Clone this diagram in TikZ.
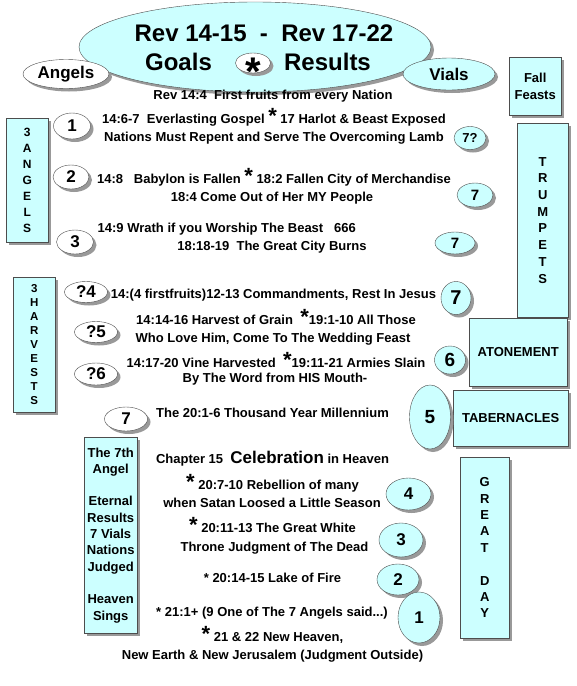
\documentclass[tikz,border=0pt]{standalone}
\usepackage{fontspec}
\setmainfont{Liberation Sans}
\usetikzlibrary{shapes.geometric,shadows}

\definecolor{paleblue}{HTML}{CCFFFF}
\definecolor{rimgray}{HTML}{4D4D4D}
\definecolor{shadegray}{HTML}{999999}

\newcommand{\boldsize}[2]{\bfseries\fontsize{#1}{#2}\selectfont}
\newcommand{\bigmark}{{\fontsize{22}{22}\selectfont *}}

\begin{document}
\begin{tikzpicture}[
    x=1pt, y=-1pt,
    shadowed/.style={drop shadow={shadow xshift=3pt, shadow yshift=-3pt, fill=shadegray, opacity=1}},
    panel/.style={shadowed, rectangle, draw=rimgray, fill=paleblue, anchor=north west, inner sep=0pt, align=center, font=\boldsize{13}{16}},
    bubble/.style={shadowed, ellipse, draw=rimgray, fill=paleblue, inner sep=0pt, font=\boldsize{17}{17}},
    whitebubble/.style={bubble, fill=white},
    verse/.style={inner sep=0pt, anchor=base, font=\boldsize{13}{16}},
    ]
    \path[use as bounding box, fill=white] (0,0) rectangle (577,686);

    % Title
    \node[bubble, minimum width=352pt, minimum height=90pt] (title) at (255,47) {};
    \node[verse, font=\boldsize{24}{24}] (heading) at (264,41.6) {Rev 14-15 \ - \ Rev 17-22};
    \node[verse, font=\boldsize{24}{24}] (goals) at (178.5,70.6) {Goals};
    \node[whitebubble, minimum width=35pt, minimum height=20pt] (markbubble) at (253,63) {};
    \node[verse, font=\boldsize{40}{40}] (mark) at (253,85.5) {*};
    \node[verse, font=\boldsize{24}{24}] (results) at (327.5,70.6) {Results};

    % Headings
    \node[whitebubble, minimum width=86pt, minimum height=29pt] (angels) at (66,74) {Angels};
    \node[bubble, minimum width=92pt, minimum height=32pt] (vials) at (449,74) {Vials};
    \node[panel, minimum width=52pt, minimum height=58pt, font=\boldsize{13}{17}] (feasts) at (509,57) {Fall\\Feasts};

    % Side boxes
    \node[panel, minimum width=42pt, minimum height=124pt, font=\boldsize{12}{16}] (angelbox) at (6,118) {3\\A\\N\\G\\E\\L\\S};
    \node[panel, minimum width=51pt, minimum height=194pt, font=\boldsize{13}{16.7}] (trumpets) at (517,123) {T\\R\\U\\M\\P\\E\\T\\S};
    \node[panel, minimum width=42pt, minimum height=135pt, font=\boldsize{11.5}{14}] (harvests) at (13,277) {3\\H\\A\\R\\V\\E\\S\\T\\S};
    \node[panel, minimum width=98pt, minimum height=68pt] (atonement) at (469,318) {ATONEMENT};
    \node[panel, minimum width=115pt, minimum height=56pt] (tabernacles) at (453,390) {TABERNACLES};
    \node[panel, minimum width=49pt, minimum height=181pt, font=\boldsize{13}{16.4}] (greatday) at (460,457) {G\\R\\E\\A\\T\\[16.4pt]D\\A\\Y};
    \node[panel, minimum width=53pt, minimum height=196pt, font=\boldsize{13}{16.3}] (seventh) at (84,437) {The 7th\\Angel\\[16.3pt]Eternal\\Results\\7 Vials\\Nations\\Judged\\[16.3pt]Heaven\\Sings};

    % Three angels
    \node[verse] (firstfruits) at (273,99.5) {Rev 14:4 \ First fruits from every Nation};
    \node[whitebubble, minimum width=37pt, minimum height=26pt] (a1) at (72,126) {1};
    \node[verse] (a1top) at (274,123.5) {14:6-7 \ Everlasting Gospel \bigmark\ 17 Harlot \& Beast Exposed};
    \node[verse] (a1bot) at (274,141.5) {Nations Must Repent and Serve The Overcoming Lamb};
    \node[bubble, minimum width=32pt, minimum height=23pt, font=\boldsize{13}{13}] (v1) at (470,138) {7?};
    \node[whitebubble, minimum width=36pt, minimum height=24pt] (a2) at (71,177) {2};
    \node[verse] (a2top) at (274,183.5) {14:8 \ \ Babylon is Fallen \bigmark\ 18:2 Fallen City of Merchandise};
    \node[verse] (a2bot) at (272,201.5) {18:4 Come Out of Her MY People};
    \node[bubble, minimum width=36pt, minimum height=24pt, font=\boldsize{15}{15}] (v2) at (475,195) {7};
    \node[whitebubble, minimum width=37pt, minimum height=24pt] (a3) at (75,242) {3};
    \node[verse, anchor=base west] (a3top) at (97.5,232.5) {14:9 Wrath if you Worship The Beast \ \ 666};
    \node[verse] (a3bot) at (272,250.5) {18:18-19 \ The Great City Burns};
    \node[bubble, minimum width=40pt, minimum height=22pt, font=\boldsize{15}{15}] (v3) at (455,243) {7};

    % Three harvests
    \node[whitebubble, minimum width=43pt, minimum height=21pt] (h4) at (86,292) {?4};
    \node[verse] (h4line) at (273.5,298.5) {14:(4 firstfruits)12-13 Commandments, Rest In Jesus};
    \node[bubble, minimum width=30pt, minimum height=33pt, font=\boldsize{20}{20}] (v4) at (456,298) {7};
    \node[whitebubble, minimum width=43pt, minimum height=21pt] (h5) at (96,332) {?5};
    \node[verse] (h5top) at (276,324.5) {14:14-16 Harvest of Grain \ \bigmark19:1-10 All Those};
    \node[verse] (h5bot) at (273,342.5) {Who Love Him, Come To The Wedding Feast};
    \node[whitebubble, minimum width=43pt, minimum height=22pt] (h6) at (96,374) {?6};
    \node[verse] (h6top) at (276,367.5) {14:17-20 Vine Harvested \ \bigmark19:11-21 Armies Slain};
    \node[verse] (h6bot) at (275,382.5) {By The Word from HIS Mouth-};
    \node[bubble, minimum width=31pt, minimum height=28pt, font=\boldsize{19}{19}] (v6) at (450,360) {6};
    \node[whitebubble, minimum width=43pt, minimum height=24pt] (m7) at (126,419) {7};
    \node[verse] (millennium) at (272.5,417.5) {The 20:1-6 Thousand Year Millennium};
    \node[bubble, minimum width=41pt, minimum height=64pt, font=\boldsize{19}{19}] (v5) at (430,417) {5};

    % Great day
    \node[verse] (chapter) at (272.5,463.5) {Chapter 15 \ {\fontsize{17}{17}\selectfont Celebration} in Heaven};
    \node[verse] (g4top) at (272.5,489.5) {\bigmark\ 20:7-10 Rebellion of many};
    \node[verse] (g4bot) at (272,507.5) {when Satan Loosed a Little Season};
    \node[bubble, minimum width=45pt, minimum height=32pt] (g4) at (408.5,494) {4};
    \node[verse] (g3top) at (272.5,532.5) {\bigmark\ 20:11-13 The Great White};
    \node[verse] (g3bot) at (274.5,551.5) {Throne Judgment of The Dead};
    \node[bubble, minimum width=44pt, minimum height=34pt] (g3) at (401,540) {3};
    \node[verse] (g2line) at (272.5,582.5) {* 20:14-15 Lake of Fire};
    \node[bubble, minimum width=42pt, minimum height=31pt] (g2) at (398,579.5) {2};
    \node[bubble, minimum width=42pt, minimum height=51pt] (g1) at (419,617.5) {1};
    \node[verse] (g1top) at (272,616.5) {* 21:1+ (9 One of The 7 Angels said...)};
    \node[verse] (g1mid) at (272.5,641.5) {\bigmark\ 21 \& 22 New Heaven,};
    \node[verse] (g1bot) at (272.5,659.5) {New Earth \& New Jerusalem (Judgment Outside)};
\end{tikzpicture}
\end{document}
